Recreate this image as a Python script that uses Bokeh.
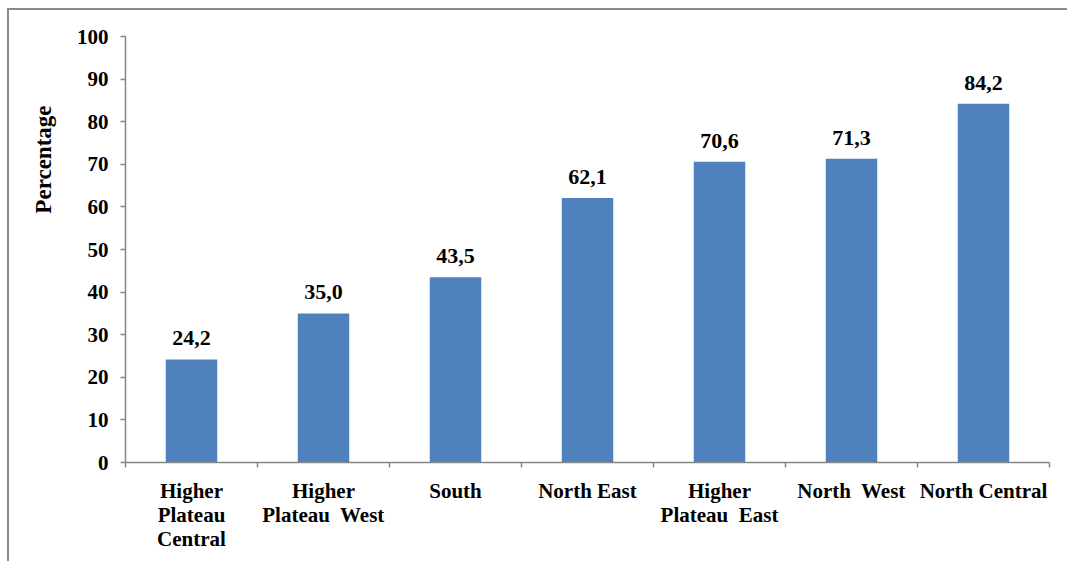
from math import pi

from bokeh.core.properties import value
from bokeh.embed import file_html
from bokeh.models import FixedTicker, Range1d, Title
from bokeh.plotting import figure
from bokeh.resources import INLINE

# Share of households per region (percent)
NBSP = "\u00a0"
regions = [
    "Higher\nPlateau\nCentral",
    "Higher\nPlateau" + NBSP + " West",
    "South",
    "North East",
    "Higher\nPlateau" + NBSP + " East",
    "North" + NBSP + " West",
    "North Central",
]
percent = [24.2, 35.0, 43.5, 62.1, 70.6, 71.3, 84.2]
pct_labels = ["24,2", "35,0", "43,5", "62,1", "70,6", "71,3", "84,2"]
y_ticks = [0, 10, 20, 30, 40, 50, 60, 70, 80, 90, 100]

FONT = "Liberation Serif"
AXIS_GREY = "#868686"
BAR_BLUE = "#4F81BD"

n = len(regions)
centers = [i + 0.5 for i in range(n)]

p = figure(
    width=1060, height=553,
    output_backend="svg", toolbar_location=None,
    x_range=Range1d(0, n), y_range=Range1d(0, 100),
    min_border_left=116, min_border_right=20,
    min_border_top=26, min_border_bottom=101,
)
p.margin = (8, 0, 0, 7)
p.styles = {
    "border-top": "2px solid #8a8a8a",
    "border-left": "2px solid #8a8a8a",
}
p.outline_line_color = None
p.xgrid.grid_line_color = None
p.ygrid.grid_line_color = None
p.background_fill_color = "white"
p.border_fill_color = "white"

p.vbar(x=centers, top=percent, width=0.39, color=BAR_BLUE, line_color=None)

p.text(
    x=centers, y=percent, text=pct_labels,
    text_font=value(FONT), text_font_style="bold", text_font_size="22px",
    text_align="center", text_baseline="alphabetic", y_offset=-21,
    text_color="black",
)

# x axis: ticks at category boundaries, labels at category centres
xa = p.xaxis[0]
xa.ticker = FixedTicker(ticks=centers, minor_ticks=list(range(n + 1)))
xa.major_label_overrides = {c: lab for c, lab in zip(centers, regions)}
xa.major_tick_line_color = None
xa.major_tick_in = 0
xa.major_tick_out = 5
xa.minor_tick_in = 0
xa.minor_tick_out = 5
xa.minor_tick_line_color = AXIS_GREY
xa.minor_tick_line_width = 1.5
xa.axis_line_color = AXIS_GREY
xa.axis_line_width = 1.5
xa.major_label_standoff = 11
xa.major_label_text_font = FONT
xa.major_label_text_font_style = "bold"
xa.major_label_text_font_size = "21px"
xa.major_label_text_color = "black"
xa.major_label_text_line_height = 1.02

ya = p.yaxis[0]
ya.ticker = FixedTicker(ticks=y_ticks)
ya.major_tick_in = 0
ya.major_tick_out = 5
ya.minor_tick_line_color = None
ya.major_tick_line_color = AXIS_GREY
ya.major_tick_line_width = 1.5
ya.axis_line_color = AXIS_GREY
ya.axis_line_width = 1.5
ya.major_label_standoff = 12
ya.major_label_text_font = FONT
ya.major_label_text_font_style = "bold"
ya.major_label_text_font_size = "21px"
ya.major_label_text_color = "black"

# rotated y-axis title in the left panel, set towards the top of the axis
p.add_layout(Title(
    text="Percentage", align="right", offset=69, standoff=36,
    text_font=FONT, text_font_style="bold", text_font_size="23px",
    text_color="black",
), "left")

open("out.html", "w").write(file_html(p, INLINE))
